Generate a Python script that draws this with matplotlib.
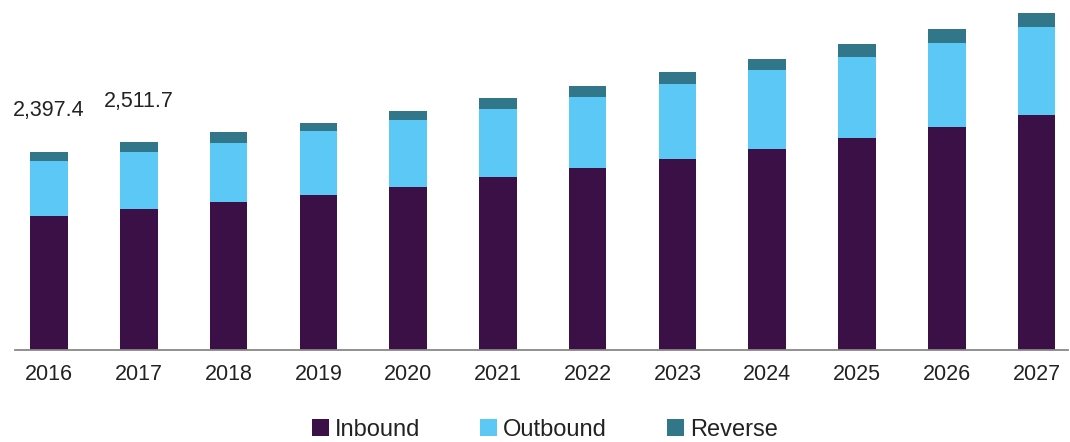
import numpy as np
import matplotlib.pyplot as plt

plt.rcParams.update({'font.family': ['Liberation Sans', 'DejaVu Sans'], 'font.size': 15})

# Marktdaten pro Jahr
years = ['2016', '2017', '2018', '2019', '2020', '2021', '2022', '2023', '2024', '2025', '2026', '2027']
inbound = [1625.0, 1708.0, 1794, 1875, 1976, 2097, 2199, 2315, 2432, 2562, 2702, 2843]
outbound = [664.0, 687.5, 714, 778, 807, 819, 866, 904, 956, 987, 1016, 1068]
reverse = [108.4, 116.2, 133, 97, 109, 137, 129, 141, 137, 150, 162, 162]
labeled = {0: '2,397.4', 1: '2,511.7'}

colors = ['#3a1046', '#5bc8f5', '#327789']

x = np.arange(len(years))
inb = np.array(inbound)
outb = np.array(outbound)
rev = np.array(reverse)

fig = plt.figure(figsize=(10.7, 4.42), dpi=100)
ax = fig.add_axes([0.014, 0.208, 0.984, 0.792])

w = 0.42
ax.bar(x, inb, w, color=colors[0], label='Inbound')
ax.bar(x, outb, w, bottom=inb, color=colors[1], label='Outbound')
ax.bar(x, rev, w, bottom=inb + outb, color=colors[2], label='Reverse')

# Werte über den ersten beiden Balken
total = inb + outb + rev
for i, txt in labeled.items():
    ax.text(i, total[i] + 370, txt, ha='center', va='bottom', fontsize=15.5, color='#222222')

ax.set_xlim(-0.38, 11.35)
ax.set_ylim(0, 4235)
ax.set_xticks(x)
ax.set_xticklabels(years)
ax.tick_params(axis='x', length=0, pad=10, labelsize=15.5, colors='#222222')
ax.set_yticks([])
for s in ['top', 'right', 'left']:
    ax.spines[s].set_visible(False)
ax.spines['bottom'].set_color('#888888')
ax.spines['bottom'].set_linewidth(1.3)

fig.legend(loc='center', bbox_to_anchor=(0.509, 0.027), ncol=3, frameon=False,
           handlelength=0.72, handleheight=0.72, handletextpad=0.25, columnspacing=2.55,
           fontsize=17, labelcolor='#222222')

fig.savefig('out.png', dpi=100)
